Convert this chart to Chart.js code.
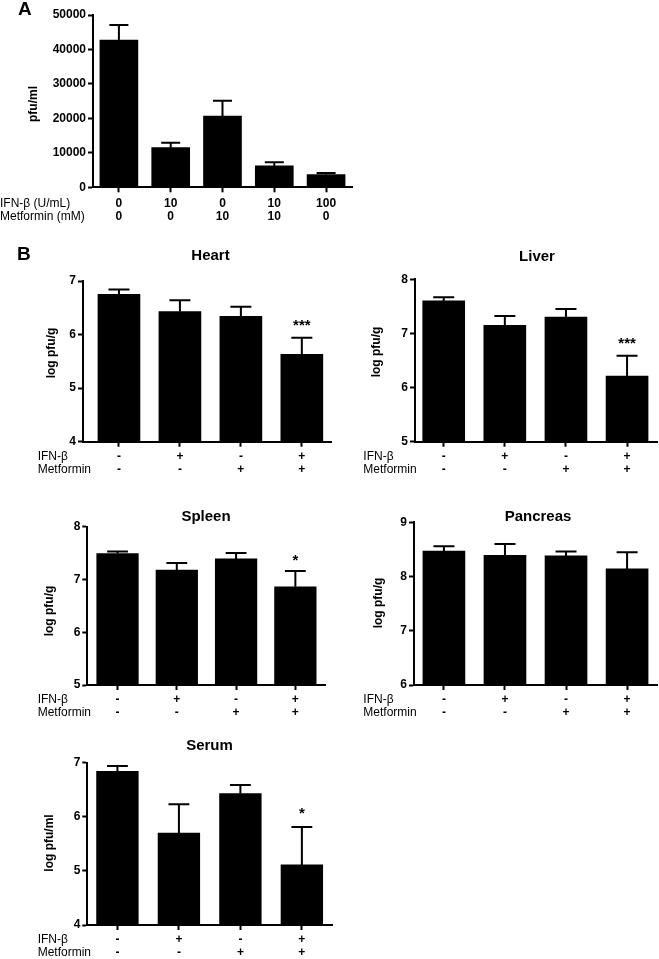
<!DOCTYPE html>
<html><head><meta charset="utf-8">
<script src="https://cdn.jsdelivr.net/npm/chart.js@4.4.1/dist/chart.umd.min.js"></script>
<style>
html,body{margin:0;padding:0;background:#fff;width:659px;height:959px;overflow:hidden}
canvas{position:absolute;left:0;top:0}
</style></head><body>
<canvas id="cA" width="659" height="959"></canvas>
<canvas id="cHeart" width="659" height="959"></canvas>
<canvas id="cLiver" width="659" height="959"></canvas>
<canvas id="cSpleen" width="659" height="959"></canvas>
<canvas id="cPancreas" width="659" height="959"></canvas>
<canvas id="cSerum" width="659" height="959"></canvas>
<script>
// ---------- data ----------
const doseIFN = ['0', '10', '0', '10', '100'];
const doseMet = ['0', '0', '10', '10', '0'];
const pfuA = [42700, 11500, 20700, 6200, 3700];
const pfuAErr = [4400, 1450, 4450, 1050, 450];
const rowLabelsA = ['IFN-β (U/mL)', 'Metformin (mM)'];

const signIFN = ['-', '+', '-', '+'];
const signMet = ['-', '-', '+', '+'];
const rowLabelsB = ['IFN-β', 'Metformin'];

const heart = [6.75, 6.43, 6.34, 5.63];
const heartErr = [0.09, 0.21, 0.18, 0.31];
const heartStars = ['', '', '', '***'];

const liver = [7.60, 7.15, 7.30, 6.21];
const liverErr = [0.07, 0.17, 0.15, 0.38];
const liverStars = ['', '', '', '***'];

const spleen = [7.49, 7.18, 7.39, 6.86];
const spleenErr = [0.04, 0.13, 0.11, 0.30];
const spleenStars = ['', '', '', '*'];

const pancreas = [8.47, 8.39, 8.38, 8.14];
const pancreasErr = [0.09, 0.21, 0.08, 0.31];
const pancreasStars = ['', '', '', ''];

const serum = [6.84, 5.70, 6.43, 5.11];
const serumErr = [0.10, 0.53, 0.16, 0.70];
const serumStars = ['', '', '', '*'];

// ---------- drawing ----------
const FONT = "'Liberation Sans', Arial, Helvetica, sans-serif";
const W = 659, H = 959, YW = 70, TL = 5, LH = 13.4;

function makeExtras(p) {
  return {
    id: 'extras_' + p.id,
    afterDraw(chart) {
      const ctx = chart.ctx;
      const meta = chart.getDatasetMeta(0);
      const ys = chart.scales.y;
      ctx.save();
      ctx.strokeStyle = '#000';
      ctx.fillStyle = '#000';
      ctx.lineWidth = 2;
      meta.data.forEach((bar, i) => {
        const v = p.values[i], e = p.errs[i];
        const yb = ys.getPixelForValue(v);
        const yt = ys.getPixelForValue(v + e);
        const half = p.barW / 4;
        ctx.beginPath();
        ctx.moveTo(bar.x, yb); ctx.lineTo(bar.x, yt);
        ctx.moveTo(bar.x - half, yt); ctx.lineTo(bar.x + half, yt);
        ctx.stroke();
        if (p.stars && p.stars[i]) {
          ctx.font = 'bold 15px ' + FONT;
          ctx.textAlign = 'center';
          ctx.textBaseline = 'alphabetic';
          ctx.fillText(p.stars[i], bar.x, p.starY + 6);
        }
      });
      // row labels
      ctx.font = '12px ' + FONT;
      ctx.textAlign = 'left';
      ctx.textBaseline = 'middle';
      p.rowLabels.forEach((t, k) => ctx.fillText(t, p.rowLabelX, p.row1Y + k * LH));
      // title
      if (p.title) {
        ctx.font = 'bold 15px ' + FONT;
        ctx.textAlign = 'center';
        ctx.fillText(p.title, p.titleX, p.titleY + 1);
      }
      // y title
      ctx.save();
      ctx.translate(p.yTitleX, p.yTitleY);
      ctx.rotate(-Math.PI / 2);
      ctx.font = 'bold 12px ' + FONT;
      ctx.textAlign = 'center';
      ctx.textBaseline = 'middle';
      ctx.fillText(p.yTitle, 0, 0);
      ctx.restore();
      // panel letter
      if (p.letter) {
        ctx.font = 'bold 19px ' + FONT;
        ctx.textAlign = 'left';
        ctx.textBaseline = 'alphabetic';
        ctx.fillText(p.letter[0], p.letter[1], p.letter[2]);
      }
      ctx.restore();
    }
  };
}

function makePanel(p) {
  const pad = p.row1Y - p.bottom - TL - LH / 2;
  const XH = Math.min(45, H - p.bottom);
  new Chart(document.getElementById(p.id), {
    type: 'bar',
    data: {
      datasets: [{
        data: p.values.map((v, i) => ({ x: i, y: v })),
        backgroundColor: '#000',
        borderWidth: 0,
        barThickness: p.barW
      }]
    },
    options: {
      responsive: false,
      animation: false,
      events: [],
      layout: { padding: { left: p.axisX - YW, top: p.top, right: W - p.right, bottom: H - p.bottom - XH } },
      plugins: { legend: { display: false }, tooltip: { enabled: false }, title: { display: false } },
      scales: {
        x: {
          type: 'linear',
          offset: false,
          min: p.xmin, max: p.xmax,
          afterFit: s => { s.height = XH; },
          afterBuildTicks: s => { s.ticks = p.rows[0].map((_, i) => ({ value: i })); },
          grid: { offset: false, drawOnChartArea: false, drawTicks: true, tickLength: TL, tickWidth: 2, tickColor: '#000' },
          border: { display: true, color: '#000', width: 2 },
          ticks: {
            autoSkip: false, maxRotation: 0, minRotation: 0, padding: pad, color: '#000',
            font: { family: FONT, size: 12, weight: 'bold', lineHeight: LH / 12 },
            callback: (v, i) => [p.rows[0][i], p.rows[1][i]]
          }
        },
        y: {
          min: p.ymin, max: p.ymax,
          afterFit: s => { s.width = YW; },
          grid: { drawOnChartArea: false, drawTicks: true, tickLength: TL, tickWidth: 2, tickColor: '#000' },
          border: { display: true, color: '#000', width: 2 },
          ticks: {
            stepSize: p.step, padding: 2, color: '#000',
            font: { family: FONT, size: 12, weight: 'bold' },
            callback: v => String(v)
          }
        }
      }
    },
    plugins: [makeExtras(p)]
  });
}

makePanel({
  id: 'cA', values: pfuA, errs: pfuAErr, rows: [doseIFN, doseMet], rowLabels: rowLabelsA,
  axisX: 93, top: 15, bottom: 187.3, right: 352.5, xmin: -0.5, xmax: 4.51,
  ymin: 0, ymax: 50000, step: 10000, barW: 38,
  rowLabelX: 0, row1Y: 203.3, yTitle: 'pfu/ml', yTitleX: 34, yTitleY: 104,
  letter: ['A', 18, 15]
});
makePanel({
  id: 'cHeart', values: heart, errs: heartErr, stars: heartStars, starY: 324,
  rows: [signIFN, signMet], rowLabels: rowLabelsB,
  axisX: 83, top: 281, bottom: 441.7, right: 331.7, xmin: -0.59, xmax: 3.49,
  ymin: 4, ymax: 7, step: 1, barW: 42,
  rowLabelX: 37.7, row1Y: 456.7, title: 'Heart', titleX: 210.5, titleY: 255,
  yTitle: 'log pfu/g', yTitleX: 52, yTitleY: 353,
  letter: ['B', 17, 259.5]
});
makePanel({
  id: 'cLiver', values: liver, errs: liverErr, stars: liverStars, starY: 341.7,
  rows: [signIFN, signMet], rowLabels: rowLabelsB,
  axisX: 415, top: 279.3, bottom: 441.7, right: 657, xmin: -0.47, xmax: 3.49,
  ymin: 5, ymax: 8, step: 1, barW: 42,
  rowLabelX: 363.3, row1Y: 456.7, title: 'Liver', titleX: 537, titleY: 256,
  yTitle: 'log pfu/g', yTitleX: 377, yTitleY: 352
});
makePanel({
  id: 'cSpleen', values: spleen, errs: spleenErr, stars: spleenStars, starY: 559.3,
  rows: [signIFN, signMet], rowLabels: rowLabelsB,
  axisX: 87.3, top: 526.7, bottom: 685, right: 325, xmin: -0.51, xmax: 3.5,
  ymin: 5, ymax: 8, step: 1, barW: 41.6,
  rowLabelX: 37.7, row1Y: 699.3, title: 'Spleen', titleX: 206, titleY: 516,
  yTitle: 'log pfu/g', yTitleX: 50, yTitleY: 611
});
makePanel({
  id: 'cPancreas', values: pancreas, errs: pancreasErr, stars: pancreasStars, starY: 0,
  rows: [signIFN, signMet], rowLabels: rowLabelsB,
  axisX: 414, top: 522.3, bottom: 685, right: 657, xmin: -0.49, xmax: 3.49,
  ymin: 6, ymax: 9, step: 1, barW: 42,
  rowLabelX: 363.3, row1Y: 699.3, title: 'Pancreas', titleX: 538, titleY: 516,
  yTitle: 'log pfu/g', yTitleX: 379, yTitleY: 603
});
makePanel({
  id: 'cSerum', values: serum, errs: serumErr, stars: serumStars, starY: 811.7,
  rows: [signIFN, signMet], rowLabels: rowLabelsB,
  axisX: 87.3, top: 762.7, bottom: 925, right: 332, xmin: -0.49, xmax: 3.49,
  ymin: 4, ymax: 7, step: 1, barW: 41.7,
  rowLabelX: 37.7, row1Y: 939.3, title: 'Serum', titleX: 209.5, titleY: 745,
  yTitle: 'log pfu/ml', yTitleX: 50, yTitleY: 843
});
</script>
</body></html>
